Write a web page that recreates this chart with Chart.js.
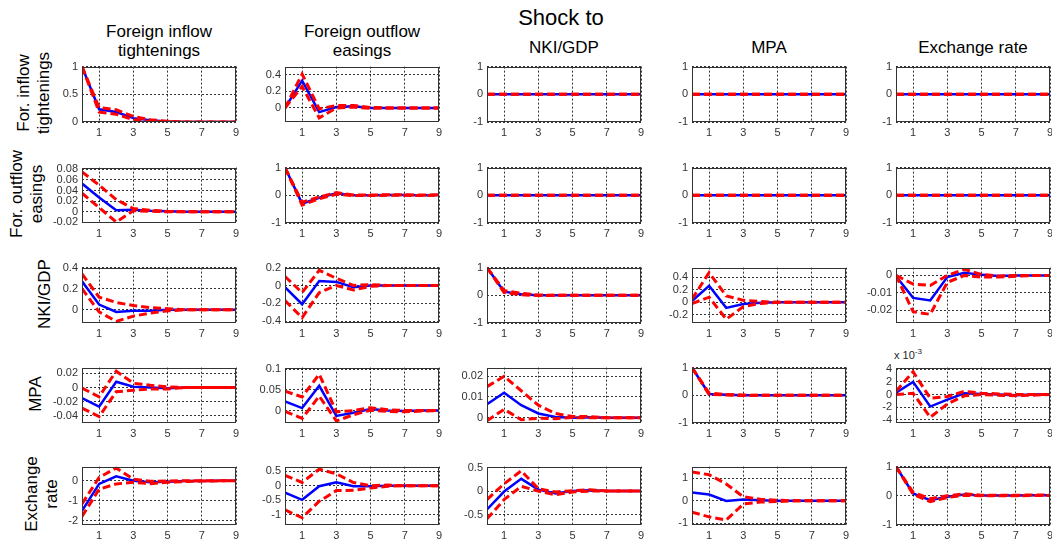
<!DOCTYPE html>
<html>
<head>
<meta charset="utf-8">
<script src="https://cdn.jsdelivr.net/npm/chart.js@4"></script>
<style>
  body { margin: 0; background: #fff; }
  #wrap { position: relative; width: 1052px; height: 542px; overflow: hidden;
          font-family: "Liberation Sans", Arial, sans-serif; color: #000; }
  .t { position: absolute; transform: translate(-50%, -50%); white-space: nowrap;
       text-align: center; line-height: 19px; font-size: 17px; }
  .big { font-size: 22px; }
  .r { position: absolute; transform: translate(-50%, -50%) rotate(-90deg); white-space: nowrap;
       text-align: center; line-height: 20px; font-size: 17px; }
  .sc { position: absolute; font-size: 11px; color: #262626; white-space: nowrap; }
  canvas { position: absolute; }
</style>
</head>
<body>
<div id="wrap"></div>
<script>
// horizons and tick labels
const horizons = [0, 1, 2, 3, 4, 5, 6, 7, 8, 9];
const xTicks = [1, 3, 5, 7, 9];
const shockNames = ['Foreign inflow<br>tightenings', 'Foreign outflow<br>easings', 'NKI/GDP', 'MPA', 'Exchange rate'];
const responseNames = ['For. inflow<br>tightenings', 'For. outflow<br>easings', 'NKI/GDP', 'MPA', 'Exchange<br>rate'];
const zero = [0, 0, 0, 0, 0, 0, 0, 0, 0, 0];

// response of foreign inflow tightenings (one entry per shock)
const inflowMid = [
  [1, 0.23, 0.18, 0.07, 0.03, 0.01, 0, 0, 0, 0],
  [0, 0.33, -0.05, 0.01, 0.02, 0, 0, 0, 0, 0],
  zero, zero, zero
];
const inflowLo = [
  [1, 0.18, 0.14, 0.04, 0.01, 0.005, 0, 0, 0, 0],
  [0, 0.26, -0.12, 0, 0.01, -0.005, 0, 0, 0, 0],
  zero, zero, zero
];
const inflowHi = [
  [1, 0.26, 0.22, 0.1, 0.04, 0.015, 0, 0, 0, 0],
  [0, 0.41, -0.01, 0.03, 0.03, 0.005, 0, 0, 0, 0],
  zero, zero, zero
];

// response of foreign outflow easings
const outflowMid = [
  [0.053, 0.027, 0.003, 0.004, 0.002, 0.001, 0, 0, 0, 0],
  [1, -0.3, -0.09, 0.07, 0, 0, 0.01, 0.01, 0, 0.01],
  zero, zero, zero
];
const outflowLo = [
  [0.035, 0.008, -0.019, 0.002, 0.001, 0, 0, 0, 0, 0],
  [1, -0.35, -0.12, 0.04, -0.01, -0.01, 0, 0, -0.01, 0],
  zero, zero, zero
];
const outflowHi = [
  [0.075, 0.05, 0.023, 0.006, 0.003, 0.001, 0, 0, 0, 0],
  [1, -0.25, -0.06, 0.1, 0.01, 0.01, 0.02, 0.02, 0.01, 0.02],
  zero, zero, zero
];

// response of NKI/GDP
const nkiMid = [
  [0.27, 0.05, -0.02, -0.01, -0.01, 0, 0, 0, 0, 0],
  [-0.02, -0.21, 0.05, 0.04, -0.02, 0, 0, 0, 0, 0],
  [1, 0.13, 0.04, 0, 0, 0, 0, 0, 0, 0],
  [0.02, 0.26, -0.09, -0.03, -0.01, 0, 0, 0, 0, 0],
  [-0.0005, -0.013, -0.0145, -0.001, 0.0015, 0.0003, -0.0003, 0, 0, 0]
];
const nkiLo = [
  [0.2, -0.02, -0.11, -0.06, -0.03, -0.01, 0, 0, 0, 0],
  [-0.17, -0.36, -0.08, 0, -0.05, -0.01, 0, 0, 0, 0],
  [1, 0.1, 0.02, -0.01, 0, 0, 0, 0, 0, 0],
  [-0.02, 0.08, -0.27, -0.07, -0.02, 0, 0, 0, 0, 0],
  [0, -0.021, -0.0225, -0.004, 0, -0.001, -0.001, -0.0005, 0, 0]
];
const nkiHi = [
  [0.34, 0.12, 0.07, 0.04, 0.02, 0.01, 0, 0, 0, 0],
  [0.1, -0.08, 0.17, 0.08, 0, 0.01, 0, 0, 0, 0],
  [1, 0.17, 0.07, 0.01, 0, 0, 0, 0, 0, 0],
  [0.05, 0.47, 0.1, 0.03, 0.01, 0, 0, 0, 0, 0],
  [0, -0.005, -0.0058, 0, 0.0035, 0.0005, -0.0003, 0, 0, 0]
];

// response of MPA
const mpaMid = [
  [-0.015, -0.027, 0.008, 0.001, 0, -0.001, 0, 0, 0, 0],
  [0.022, 0.006, 0.06, -0.013, -0.005, 0.004, 0, -0.001, 0, 0],
  [0.0065, 0.012, 0.006, 0.002, 0.0003, 0, 0.0002, 0, 0, 0],
  [1, 0.05, 0.02, 0, 0, 0, 0, 0, 0, 0],
  [0.0003, 0.002, -0.0019, -0.0008, 0.0002, 0.0001, 0, -0.0001, 0, 0]
];
const mpaLo = [
  [-0.029, -0.041, -0.006, -0.004, -0.002, -0.002, 0, 0, 0, 0],
  [-0.002, -0.019, 0.035, -0.025, -0.01, 0.001, -0.002, -0.003, -0.001, 0],
  [-0.0015, 0.004, -0.001, -0.0003, -0.0005, 0, 0, 0, 0, 0],
  [1, 0.03, 0.01, -0.01, 0, 0, 0, 0, 0, 0],
  [0, 0.0002, -0.0036, -0.0015, -0.0002, 0, -0.0001, -0.0002, -0.0001, 0]
];
const mpaHi = [
  [-0.001, -0.013, 0.023, 0.006, 0.003, 0.001, 0, 0, 0, 0],
  [0.047, 0.033, 0.088, -0.003, 0, 0.007, 0.002, 0, 0, 0],
  [0.015, 0.02, 0.013, 0.006, 0.002, 0.0005, 0.0005, 0, 0, 0],
  [1, 0.08, 0.03, 0.01, 0, 0, 0, 0, 0, 0],
  [0.0005, 0.0036, -0.0006, -0.0003, 0.0005, 0.0002, 0.0001, 0, 0, 0]
];

// response of exchange rate
const fxMid = [
  [-1.5, -0.16, 0.22, 0, -0.08, -0.05, -0.02, -0.01, 0, 0],
  [-0.24, -0.49, -0.02, 0.12, -0.02, -0.02, 0, 0, 0, 0],
  [-0.39, -0.01, 0.26, 0.03, -0.05, 0, 0.02, 0, 0, 0],
  [0.37, 0.28, 0, 0.06, 0.03, 0, 0, 0, 0, 0],
  [1, 0.08, -0.15, -0.03, 0.045, 0.01, 0.01, 0.01, 0.02, 0.02]
];
const fxLo = [
  [-1.78, -0.42, -0.16, -0.08, -0.15, -0.08, -0.04, -0.02, -0.01, 0],
  [-0.84, -1.11, -0.54, -0.17, -0.16, -0.08, -0.02, 0, 0, 0],
  [-0.59, -0.18, 0.1, 0, -0.08, -0.02, 0, 0, 0, 0],
  [-0.5, -0.71, -0.85, -0.14, -0.05, -0.03, 0, 0, 0, 0],
  [1, 0.05, -0.2, -0.06, 0.02, 0, 0, 0, 0.01, 0.01]
];
const fxHi = [
  [-1.15, 0.16, 0.63, 0.08, -0.03, -0.02, 0, 0, 0, 0],
  [0.36, 0.11, 0.57, 0.41, 0.11, 0, 0.02, 0, 0, 0],
  [-0.18, 0.155, 0.43, 0.05, -0.02, 0.01, 0.03, 0, 0, 0],
  [1.28, 1.16, 0.75, 0.18, 0.07, 0.03, 0, 0, 0, 0],
  [1, 0.12, -0.1, 0, 0.07, 0.02, 0.02, 0.02, 0.03, 0.03]
];

// y axis limits and tick values per panel (row = response, col = shock)
const yLimits = [
  [[0, 1], [-0.17, 0.5], [-1, 1], [-1, 1], [-1, 1]],
  [[-0.021, 0.083], [-1, 1], [-1, 1], [-1, 1], [-1, 1]],
  [[-0.125, 0.4], [-0.42, 0.2], [-1, 1], [-0.33, 0.55], [-0.0275, 0.0045]],
  [[-0.05, 0.028], [-0.03, 0.104], [-0.0026, 0.0242], [-1, 1], [-0.0045, 0.00425]],
  [[-2.2, 0.7], [-1.36, 0.66], [-0.72, 0.52], [-1.07, 1.52], [-1, 1]]
];
const yTicks = [
  [[0, 0.5, 1], [0, 0.2, 0.4], [-1, 0, 1], [-1, 0, 1], [-1, 0, 1]],
  [[-0.02, 0, 0.02, 0.04, 0.06, 0.08], [-1, 0, 1], [-1, 0, 1], [-1, 0, 1], [-1, 0, 1]],
  [[0, 0.2, 0.4], [-0.4, -0.2, 0, 0.2], [-1, 0, 1], [-0.2, 0, 0.2, 0.4], [-0.02, -0.01, 0]],
  [[-0.04, -0.02, 0, 0.02], [0, 0.05, 0.1], [0, 0.01, 0.02], [-1, 0, 1], [-0.004, -0.002, 0, 0.002, 0.004]],
  [[-2, -1, 0], [-1, -0.5, 0, 0.5], [-0.5, 0, 0.5], [-1, 0, 1], [-1, 0, 1]]
];

const mids = [inflowMid, outflowMid, nkiMid, mpaMid, fxMid];
const los = [inflowLo, outflowLo, nkiLo, mpaLo, fxLo];
const his = [inflowHi, outflowHi, nkiHi, mpaHi, fxHi];

// layout
const colLeft = [82, 285, 487, 692, 896];
const rowTop = [63, 164, 264, 364, 463];
const rowH = [59, 59, 59, 59, 62];
const panelW = 154;
const labelX = [34, 27, 45, 36, 42];
const AX_W = 50, AX_H = 20, PAD_T = 7, PAD_R = 8;

const wrap = document.getElementById('wrap');

function addText(cls, html, x, y) {
  const d = document.createElement('div');
  d.className = cls;
  d.innerHTML = html;
  d.style.left = x + 'px';
  d.style.top = y + 'px';
  wrap.appendChild(d);
}

addText('t big', 'Shock to', 561, 17);
shockNames.forEach((s, c) => {
  const y = s.includes('<br>') ? 41 : 47;
  addText('t', s, colLeft[c] + panelW / 2, y);
});
responseNames.forEach((s, r) => {
  addText('r', s, labelX[r], rowTop[r] + rowH[r] / 2);
});
const sc = document.createElement('div');
sc.className = 'sc';
sc.innerHTML = 'x 10<sup style="font-size:8px">-3</sup>';
sc.style.left = '894px';
sc.style.top = '347px';
wrap.appendChild(sc);

const framePlugin = {
  id: 'frame',
  afterDraw(chart) {
    const a = chart.chartArea, ctx = chart.ctx;
    ctx.save();
    ctx.strokeStyle = '#333';
    ctx.lineWidth = 1;
    ctx.strokeRect(Math.round(a.left) + 0.5, Math.round(a.top) + 0.5,
                   Math.round(a.width) - 1, Math.round(a.height) - 1);
    ctx.restore();
  }
};

function fmt(v, scale) {
  return String(+(v * scale).toFixed(6));
}

const tickFont = { family: 'Liberation Sans', size: 11 };

for (let r = 0; r < 5; r++) {
  for (let c = 0; c < 5; c++) {
    const cv = document.createElement('canvas');
    const w = panelW + AX_W + PAD_R, h = rowH[r] + PAD_T + AX_H;
    cv.width = w; cv.height = h;
    cv.style.left = (colLeft[c] - AX_W) + 'px';
    cv.style.top = (rowTop[r] - PAD_T) + 'px';
    cv.style.width = w + 'px'; cv.style.height = h + 'px';
    wrap.appendChild(cv);

    const pts = arr => horizons.map((hz, i) => ({ x: hz, y: arr[i] }));
    const scale = (r === 3 && c === 4) ? 1000 : 1;
    const yt = yTicks[r][c];

    new Chart(cv, {
      type: 'line',
      data: {
        datasets: [
          { data: pts(los[r][c]), borderColor: '#ff0000', borderWidth: 3, borderDash: [8, 4] },
          { data: pts(his[r][c]), borderColor: '#ff0000', borderWidth: 3, borderDash: [8, 4] },
          { data: pts(mids[r][c]), borderColor: '#0000ff', borderWidth: 2.5 }
        ]
      },
      options: {
        responsive: false,
        animation: false,
        events: [],
        layout: { padding: { top: PAD_T, right: PAD_R, left: 0, bottom: 0 } },
        elements: { point: { radius: 0 }, line: { tension: 0, fill: false } },
        plugins: { legend: { display: false }, tooltip: { enabled: false } },
        scales: {
          x: {
            type: 'linear', min: 0, max: 9,
            afterBuildTicks: s => { s.ticks = xTicks.map(v => ({ value: v })); },
            afterFit: s => { s.height = AX_H; },
            grid: { color: '#000', lineWidth: 0.8, drawTicks: false },
            border: { display: false, dash: [2, 2] },
            ticks: { font: tickFont, color: '#333', padding: 4, maxRotation: 0, autoSkip: false,
                     callback: v => String(v) }
          },
          y: {
            type: 'linear', min: yLimits[r][c][0], max: yLimits[r][c][1],
            afterBuildTicks: s => { s.ticks = yt.map(v => ({ value: v })); },
            afterFit: s => { s.width = AX_W; },
            grid: { color: '#000', lineWidth: 0.8, drawTicks: false },
            border: { display: false, dash: [2, 2] },
            ticks: { font: tickFont, color: '#333', padding: 4, autoSkip: false,
                     callback: v => fmt(v, scale) }
          }
        }
      },
      plugins: [framePlugin]
    });
  }
}
</script>
</body>
</html>
